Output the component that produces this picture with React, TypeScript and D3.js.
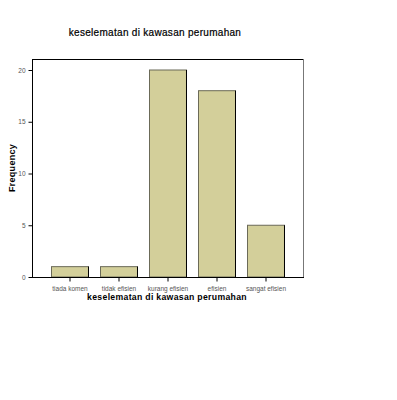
import * as d3 from "d3";
import { useEffect, useRef } from "react";

const categories = ["tiada komen", "tidak efisien", "kurang efisien", "efisien", "sangat efisien"];
const frequencies = [1, 1, 20, 18, 5];
const yTicks = [0, 5, 10, 15, 20];

const App = () => {
  const ref = useRef(null);

  useEffect(() => {
    drawChart(ref.current);
  }, [ref]);

  return <div ref={ref} style={{ position: "absolute", left: 0, top: 0 }}></div>;
};

const drawChart = (element: any) => {
  d3.select(element).select("svg").remove();

  const width = 397;
  const height = 400;
  const left = 32;
  const right = 303;
  const top = 59;
  const bottom = 277;

  const svg = d3
    .select(element)
    .append("svg")
    .attr("width", width)
    .attr("height", height)
    .style("display", "block")
    .style("background", "#fff");

  const font = "'Liberation Sans', Arial, sans-serif";

  svg.append("text")
    .attr("x", 155)
    .attr("y", 36)
    .attr("font-size", "10px")
    .attr("font-family", font)
    .attr("letter-spacing", "0.3px")
    .attr("fill", "#000")
    .attr("stroke", "#000")
    .attr("stroke-width", 0.2)
    .attr("text-anchor", "middle")
    .text("keselematan di kawasan perumahan");

  const xScale = d3.scaleBand()
    .domain(categories)
    .range([45.5, 290.5])
    .paddingInner(0.245)
    .paddingOuter(0.1225);

  const yScale = d3.scaleLinear()
    .domain([0, 20])
    .range([bottom, 70]);

  // frame: top and right
  svg.append("line")
    .attr("x1", left).attr("x2", right)
    .attr("y1", top + 0.5).attr("y2", top + 0.5)
    .attr("stroke", "#000");
  svg.append("line")
    .attr("x1", right + 0.5).attr("x2", right + 0.5)
    .attr("y1", top).attr("y2", bottom)
    .attr("stroke", "#777");

  // bars
  svg.selectAll("rect.bar")
    .data(frequencies)
    .enter()
    .append("rect")
    .attr("class", "bar")
    .attr("x", (d, i) => xScale(categories[i]) as number)
    .attr("y", (d) => yScale(d))
    .attr("width", xScale.bandwidth())
    .attr("height", (d) => bottom - yScale(d))
    .attr("fill", "#d3cf9a")
    .attr("stroke", "#6b6a58")
    .attr("stroke-width", 1);

  svg.selectAll("line.barEdge")
    .data(frequencies)
    .enter()
    .append("line")
    .attr("class", "barEdge")
    .attr("x1", (d, i) => (xScale(categories[i]) as number) + xScale.bandwidth())
    .attr("x2", (d, i) => (xScale(categories[i]) as number) + xScale.bandwidth())
    .attr("y1", (d) => yScale(d))
    .attr("y2", bottom)
    .attr("stroke", "#000");

  // axes
  const yAxis = d3.axisLeft(yScale)
    .tickValues(yTicks)
    .tickSize(4)
    .tickPadding(3)
    .tickFormat(d3.format("d"));

  const yAxisGroup = svg.append("g")
    .attr("transform", "translate(" + (left + 0.5) + ",0)")
    .call(yAxis);
  yAxisGroup.select(".domain").attr("d", "M0," + top + "V" + bottom).attr("stroke", "#000");

  const xAxis = d3.axisBottom(xScale).tickSize(4).tickPadding(5);
  const xAxisGroup = svg.append("g")
    .attr("transform", "translate(0," + (bottom + 0.5) + ")")
    .call(xAxis);
  xAxisGroup.select(".domain").attr("d", "M" + left + ",0H" + (right + 1)).attr("stroke", "#000");

  [yAxisGroup, xAxisGroup].forEach((g) => {
    g.selectAll("text")
      .attr("font-size", "6.5px")
      .attr("font-family", font)
      .attr("fill", "#555");
    g.selectAll(".tick line").attr("stroke", "#000");
  });

  // axis titles
  svg.append("text")
    .attr("x", 167)
    .attr("y", 300)
    .attr("font-size", "8.7px")
    .attr("font-weight", "bold")
    .attr("letter-spacing", "0.3px")
    .attr("font-family", font)
    .attr("text-anchor", "middle")
    .text("keselematan di kawasan perumahan");

  svg.append("text")
    .attr("transform", "translate(15," + 168 + ") rotate(-90)")
    .attr("font-size", "9px")
    .attr("font-weight", "bold")
    .attr("letter-spacing", "0.3px")
    .attr("font-family", font)
    .attr("text-anchor", "middle")
    .text("Frequency");
};

export default App;
